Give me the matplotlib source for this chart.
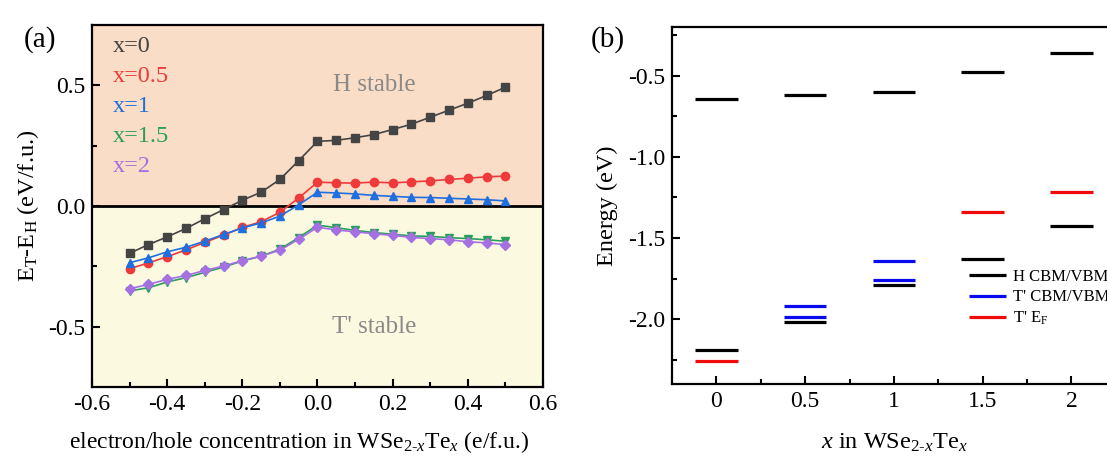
import matplotlib
matplotlib.use("Agg")
import matplotlib.pyplot as plt
import numpy as np

plt.rcParams['font.family'] = ['Liberation Serif', 'DejaVu Serif']
plt.rcParams['mathtext.fontset'] = 'custom'
plt.rcParams['mathtext.rm'] = 'Liberation Serif'
plt.rcParams['mathtext.it'] = 'Liberation Serif:italic'

# ---------- panel (a) data ----------
conc = [-0.5, -0.45, -0.4, -0.35, -0.3, -0.25, -0.2, -0.15, -0.1, -0.05, 0.0,
        0.05, 0.1, 0.15, 0.2, 0.25, 0.3, 0.35, 0.4, 0.45, 0.5]
e_x0 = [-0.196, -0.160, -0.128, -0.093, -0.053, -0.015, 0.024, 0.057, 0.110, 0.188, 0.268,
        0.272, 0.283, 0.296, 0.317, 0.339, 0.368, 0.397, 0.426, 0.458, 0.492]
e_x05 = [-0.260, -0.236, -0.210, -0.182, -0.151, -0.121, -0.089, -0.065, -0.026, 0.033, 0.099,
         0.096, 0.095, 0.099, 0.096, 0.100, 0.104, 0.110, 0.115, 0.121, 0.124]
e_x1 = [-0.235, -0.215, -0.190, -0.171, -0.146, -0.118, -0.091, -0.070, -0.042, 0.005, 0.057,
        0.054, 0.050, 0.044, 0.040, 0.036, 0.035, 0.032, 0.029, 0.026, 0.021]
e_x15 = [-0.352, -0.339, -0.315, -0.297, -0.275, -0.253, -0.228, -0.208, -0.179, -0.131, -0.079,
         -0.090, -0.101, -0.110, -0.117, -0.124, -0.126, -0.131, -0.135, -0.140, -0.146]
e_x2 = [-0.343, -0.325, -0.304, -0.288, -0.267, -0.249, -0.226, -0.208, -0.183, -0.138, -0.088,
        -0.099, -0.107, -0.115, -0.122, -0.130, -0.135, -0.140, -0.148, -0.153, -0.160]
series_labels = ['x=0', 'x=0.5', 'x=1', 'x=1.5', 'x=2']
series_colors = ['#444444', '#EE3A3A', '#1F6FDF', '#2A9E5E', '#A470E2']
series_markers = ['s', 'o', '^', 'v', 'D']

# ---------- panel (b) data ----------
x_comp = [0, 0.5, 1, 1.5, 2]
x_comp_labels = ['0', '0.5', '1', '1.5', '2']
h_cbm = [-0.644, -0.619, -0.603, -0.477, -0.360]
h_vbm = [-2.193, -2.020, -1.792, -1.627, -1.426]
tp_x = [0.5, 1]
tp_cbm = [-1.917, -1.640]
tp_vbm = [-1.987, -1.757]
ef_x = [0, 1.5, 2]
ef_val = [-2.261, -1.339, -1.216]

fig = plt.figure(figsize=(11.07, 4.59), dpi=100)

# ================= panel (a) =================
ax = fig.add_axes([0.0831, 0.1569, 0.4074, 0.7886])
ax.set_xlim(-0.6, 0.6)
ax.set_ylim(-0.75, 0.75)
ax.axhspan(0, 0.75, color='#FADDC7', zorder=0)
ax.axhspan(-0.75, 0, color='#FCF9E1', zorder=0)
ax.axhline(0, color='black', lw=2, zorder=1)
all_series = [e_x0, e_x05, e_x1, e_x15, e_x2]
for vals, c, m in zip(all_series, series_colors, series_markers):
    ax.plot(conc, vals, color=c, marker=m, ms=6 if m != 'D' else 5.5, lw=1.2, zorder=3)
for i, (lab, c) in enumerate(zip(series_labels, series_colors)):
    ax.text(0.045, 0.94 - i * 0.083, lab, color=c, fontsize=17.5, transform=ax.transAxes,
            ha='left', va='center')
ax.text(0.15, 0.5, 'H stable', color='#8A8A8A', fontsize=18, ha='center', va='center')
ax.text(0.15, -0.5, "T' stable", color='#8A8A8A', fontsize=18, ha='center', va='center')
ax.set_xticks(np.arange(-0.6, 0.61, 0.2))
ax.set_xticklabels(['-0.6', '-0.4', '-0.2', '0.0', '0.2', '0.4', '0.6'])
ax.set_xticks(np.arange(-0.5, 0.6, 0.2), minor=True)
ax.set_yticks([-0.5, 0.0, 0.5])
ax.set_yticklabels(['-0.5', '0.0', '0.5'])
ax.set_yticks([-0.25, 0.25], minor=True)
ax.tick_params(which='both', direction='in', labelsize=17, width=1.5, top=False, right=False)
ax.tick_params(which='major', length=6, pad=5)
ax.tick_params(which='minor', length=3.5)
for s in ax.spines.values():
    s.set_linewidth(1.6)
ax.set_xlabel(r'electron/hole concentration in WSe$_{2\text{-}x}$Te$_x$ (e/f.u.)', fontsize=17)
ax.xaxis.set_label_coords(0.46, -0.115)
ax.set_ylabel(r'E$_\mathrm{T}$-E$_\mathrm{H}$ (eV/f.u.)', fontsize=17.5, labelpad=5)
fig.text(40 / 1107, 1 - 40 / 459, '(a)', fontsize=21, ha='center', va='center')

# ================= panel (b) =================
bx = fig.add_axes([0.607, 0.1634, 0.401, 0.7776])
bx.set_xlim(-0.25, 2.25)
bx.set_ylim(-2.4, -0.2)
hw = 0.12
lw_lvl = 2.3
bx.hlines(h_cbm, np.array(x_comp) - hw, np.array(x_comp) + hw, color='black', lw=lw_lvl)
bx.hlines(h_vbm, np.array(x_comp) - hw, np.array(x_comp) + hw, color='black', lw=lw_lvl, label='H CBM/VBM')
bx.hlines(tp_cbm, np.array(tp_x) - hw, np.array(tp_x) + hw, color='#0A0AF0', lw=lw_lvl, label="T' CBM/VBM")
bx.hlines(tp_vbm, np.array(tp_x) - hw, np.array(tp_x) + hw, color='#0A0AF0', lw=lw_lvl)
bx.hlines(ef_val, np.array(ef_x) - hw, np.array(ef_x) + hw, color='#F00A0A', lw=lw_lvl, label=r"T' E$_\mathrm{F}$")
bx.legend(loc='upper left', bbox_to_anchor=(0.655, 0.34), frameon=False, fontsize=12,
          handlelength=2.2, handletextpad=0.4, labelspacing=0.25, borderaxespad=0)
bx.set_xticks(x_comp)
bx.set_xticklabels(x_comp_labels)
bx.set_xticks([0.25, 0.75, 1.25, 1.75], minor=True)
bx.set_yticks([-2.0, -1.5, -1.0, -0.5])
bx.set_yticklabels(['-2.0', '-1.5', '-1.0', '-0.5'])
bx.set_yticks([-2.25, -1.75, -1.25, -0.75, -0.25], minor=True)
bx.tick_params(which='both', direction='in', labelsize=17, width=1.5, top=False, right=False)
bx.tick_params(which='major', length=6, pad=5)
bx.tick_params(which='minor', length=3.5)
for s in bx.spines.values():
    s.set_linewidth(1.6)
bx.set_xlabel(r'$x$ in WSe$_{2\text{-}x}$Te$_x$', fontsize=17.5, labelpad=14)
bx.set_ylabel('Energy (eV)', fontsize=17.5, labelpad=7)
fig.text(608 / 1107, 1 - 40 / 459, '(b)', fontsize=21, ha='center', va='center')

fig.savefig('out.png', dpi=100)
